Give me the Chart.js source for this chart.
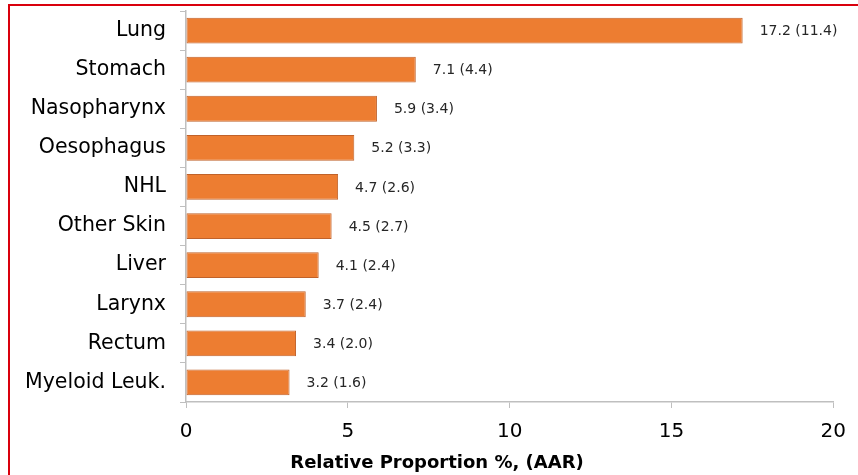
<!DOCTYPE html>
<html>
<head>
<meta charset="utf-8">
<script src="https://cdn.jsdelivr.net/npm/chart.js@4"></script>
<style>
  html, body { margin: 0; padding: 0; background: #fff; }
  #frame {
    position: absolute; left: 8px; top: 4px; width: 870px; height: 480px;
    border-top: 2px solid #d9000d; border-left: 2px solid #d9000d;
  }
  #wrap { position: absolute; left: 10px; top: 6px; width: 848px; height: 469px; }
</style>
</head>
<body>
<div id="frame"></div>
<div id="wrap"><canvas id="bar-chart"></canvas></div>
<script>
// 癌症部位 —— 相对比例 (AAR)
const sites = ['Lung','Stomach','Nasopharynx','Oesophagus','NHL','Other Skin','Liver','Larynx','Rectum','Myeloid Leuk.'];
const proportion = [17.2, 7.1, 5.9, 5.2, 4.7, 4.5, 4.1, 3.7, 3.4, 3.2];
const aar = [11.4, 4.4, 3.4, 3.3, 2.6, 2.7, 2.4, 2.4, 2.0, 1.6];
const xTicks = [0, 5, 10, 15, 20];
const axisCaption = 'Relative Proportion %, (AAR)';

const FONT = '"DejaVu Sans", sans-serif';

// bar end labels: "17.2 (11.4)" + caption under the x axis (centred on the whole canvas, like Excel)
const endLabels = {
  id: 'endLabels',
  afterDatasetsDraw(chart) {
    const ctx = chart.ctx;
    const meta = chart.getDatasetMeta(0);
    ctx.save();
    ctx.font = '14px ' + FONT;
    ctx.fillStyle = '#262626';
    ctx.textBaseline = 'middle';
    meta.data.forEach((bar, i) => {
      ctx.fillText(proportion[i].toFixed(1) + ' (' + aar[i].toFixed(1) + ')', bar.x + 17, bar.y + 1);
    });
    ctx.font = 'bold 18px ' + FONT;
    ctx.fillStyle = '#000';
    ctx.textAlign = 'center';
    ctx.fillText(axisCaption, chart.width / 2 + 3, chart.height - 12);
    ctx.restore();
  }
};

new Chart(document.getElementById('bar-chart').getContext('2d'), {
  type: 'bar',
  data: {
    labels: sites,
    datasets: [{
      data: proportion,
      backgroundColor: '#ED7D31',
      borderColor: '#C0622A',
      borderWidth: 1,
      borderSkipped: false,
      barPercentage: 0.66,
      categoryPercentage: 1
    }]
  },
  options: {
    indexAxis: 'y',
    responsive: true,
    maintainAspectRatio: false,
    animation: false,
    layout: { padding: { top: 5, right: 24, bottom: 22, left: 0 } },
    plugins: {
      legend: { display: false },
      tooltip: { enabled: false }
    },
    scales: {
      x: {
        min: 0, max: 20,
        afterBuildTicks(scale) { scale.ticks = xTicks.map(v => ({ value: v })); },
        afterFit(scale) { scale.height = 51; },
        grid: { drawOnChartArea: false, color: '#bfbfbf', tickLength: 6, tickColor: '#bfbfbf' },
        border: { color: '#bfbfbf', width: 1.5 },
        ticks: { color: '#000', font: { family: FONT, size: 20 }, padding: 12 }
      },
      y: {
        afterFit(scale) { scale.width = 176; scale.paddingTop = 0; scale.paddingBottom = 0; },
        grid: { drawOnChartArea: false, offset: true, color: '#bfbfbf', tickLength: 6, tickColor: '#bfbfbf' },
        border: { color: '#bfbfbf', width: 1.5 },
        ticks: { color: '#000', font: { family: FONT, size: 20.5 }, padding: 14 }
      }
    }
  },
  plugins: [endLabels]
});
</script>
</body>
</html>
